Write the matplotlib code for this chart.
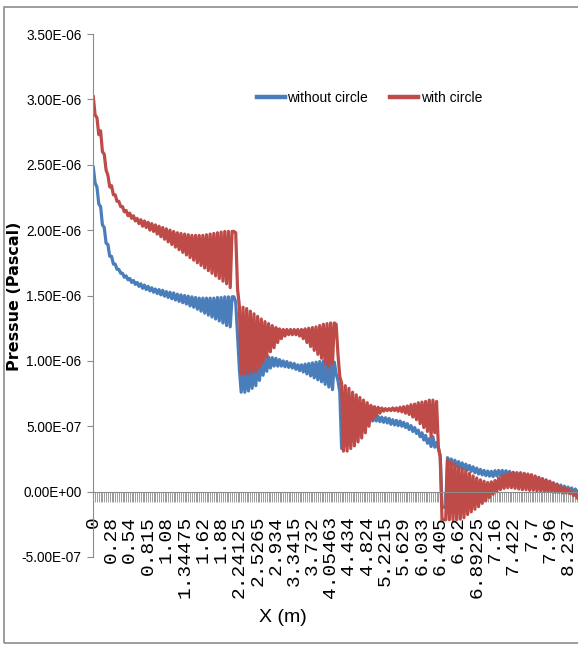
import numpy as np
import matplotlib
matplotlib.use("Agg")
import matplotlib.pyplot as plt
from matplotlib.ticker import FixedLocator, MultipleLocator, FuncFormatter
from matplotlib.patches import Rectangle

# Pressure along the channel, in units of 1e-7 Pa.
# Each pair of consecutive mesh points alternates crest / trough, so the
# series are stored as two lists (crest, trough) of equal length.
red_hi = [30.2, 28.6, 27.6, 25.8, 24.2, 23.4, 22.7, 22.2, 21.8, 21.5,
          21.3, 21.1, 20.9, 20.8, 20.7, 20.6, 20.5, 20.4, 20.3, 20.2,
          20.1, 20.0, 19.9, 19.8, 19.75, 19.7, 19.65, 19.6, 19.6, 19.6,
          19.6, 19.65, 19.7, 19.75, 19.8, 19.85, 19.9, 19.9, 19.9, 19.8,
          14.2, 14.1, 14.0, 13.8, 13.6, 13.4, 13.2, 13.0, 12.85, 12.7,
          12.55, 12.45, 12.4, 12.4, 12.4, 12.4, 12.4, 12.4, 12.45, 12.5,
          12.55, 12.6, 12.7, 12.8, 12.85, 12.9, 12.9, 10.5, 8.3, 8.1,
          7.9, 7.6, 7.4, 7.2, 7.0, 6.8, 6.6, 6.5, 6.45, 6.4,
          6.35, 6.35, 6.4, 6.4, 6.45, 6.5, 6.55, 6.65, 6.7, 6.8,
          6.85, 6.9, 7.0, 7.0, 6.9, 2.7, -2.15, 2.4, 2.25, 2.1,
          1.9, 1.75, 1.6, 1.4, 1.2, 1.05, 0.9, 0.8, 0.7, 0.75,
          0.85, 1.05, 1.2, 1.3, 1.4, 1.45, 1.45, 1.45, 1.4, 1.35,
          1.3, 1.2, 1.1, 1.0, 0.9, 0.8, 0.65, 0.55, 0.4, 0.3,
          0.2, 0.05, -0.1, -0.25]
red_lo = [28.8, 27.3, 26.0, 24.6, 23.3, 22.7, 22.2, 21.8, 21.4, 21.1,
          20.9, 20.7, 20.5, 20.3, 20.2, 20.0, 19.9, 19.7, 19.5, 19.3,
          19.1, 18.9, 18.7, 18.5, 18.3, 18.1, 17.9, 17.7, 17.5, 17.3,
          17.1, 16.9, 16.7, 16.5, 16.3, 16.1, 15.9, 15.6, 19.9, 15.5,
          9.0, 9.0, 9.0, 9.1, 9.2, 9.5, 9.9, 10.3, 10.7, 11.0,
          11.4, 11.7, 11.9, 12.0, 12.0, 12.0, 11.9, 11.7, 11.4, 11.1,
          10.8, 10.5, 10.2, 9.8, 9.5, 9.8, 12.8, 8.8, 3.1, 3.1,
          3.3, 3.5, 3.8, 4.1, 4.5, 5.0, 5.5, 5.8, 6.0, 6.15,
          6.2, 6.2, 6.2, 6.15, 6.1, 6.0, 5.9, 5.7, 5.5, 5.2,
          4.9, 4.6, 4.2, 4.5, 3.4, -2.15, -2.15, -2.15, -2.15, -2.15,
          -2.1, -2.0, -1.75, -1.55, -1.35, -1.15, -0.9, -0.7, -0.45, -0.2,
          0.0, 0.15, 0.25, 0.3, 0.3, 0.25, 0.2, 0.15, 0.15, 0.1,
          0.1, 0.05, 0.05, 0.0, 0.0, 0.0, -0.05, -0.05, -0.1, -0.1,
          -0.15, -0.3, -0.5, -0.7]

blue_hi = [24.8, 23.3, 21.8, 20.2, 18.9, 18.0, 17.4, 17.0, 16.7, 16.5,
           16.3, 16.15, 16.0, 15.9, 15.8, 15.7, 15.6, 15.5, 15.45, 15.4,
           15.3, 15.25, 15.2, 15.1, 15.05, 15.0, 14.95, 14.9, 14.85, 14.8,
           14.8, 14.8, 14.8, 14.8, 14.85, 14.85, 14.9, 14.9, 14.9, 14.5,
           9.4, 9.5, 9.6, 9.75, 9.9, 10.05, 10.15, 10.25, 10.3, 10.25,
           10.2, 10.1, 10.0, 9.95, 9.85, 9.8, 9.7, 9.7, 9.75, 9.8,
           9.85, 9.9, 9.95, 10.0, 10.0, 10.0, 9.9, 8.5, 3.3, 3.7,
           4.1, 4.5, 4.9, 5.2, 5.5, 5.7, 5.8, 5.8, 5.75, 5.7,
           5.65, 5.6, 5.5, 5.45, 5.4, 5.3, 5.2, 5.05, 4.9, 4.7,
           4.5, 4.3, 4.05, 4.2, 3.75, 2.7, -1.2, 2.6, 2.5, 2.4,
           2.3, 2.2, 2.1, 2.0, 1.9, 1.8, 1.7, 1.62, 1.57, 1.55,
           1.6, 1.62, 1.62, 1.6, 1.55, 1.48, 1.42, 1.38, 1.33, 1.28,
           1.22, 1.14, 1.05, 0.96, 0.87, 0.78, 0.68, 0.58, 0.5, 0.42,
           0.35, 0.28, 0.2, 0.12]
blue_lo = [23.6, 22.0, 20.4, 19.0, 18.0, 17.4, 17.0, 16.7, 16.4, 16.2,
           16.0, 15.85, 15.7, 15.55, 15.45, 15.35, 15.25, 15.15, 15.05, 14.95,
           14.85, 14.75, 14.65, 14.55, 14.45, 14.35, 14.2, 14.1, 13.95, 13.8,
           13.65, 13.5, 13.35, 13.2, 13.05, 12.9, 12.7, 12.6, 14.9, 12.0,
           7.6, 7.6, 7.7, 7.9, 8.1, 8.5, 8.9, 9.2, 9.45, 9.6,
           9.6, 9.6, 9.55, 9.5, 9.45, 9.35, 9.25, 9.15, 9.0, 8.85,
           8.7, 8.55, 8.4, 8.2, 8.0, 7.8, 9.0, 7.6, 3.4, 3.5,
           3.8, 4.1, 4.4, 4.7, 5.0, 5.25, 5.4, 5.4, 5.35, 5.3,
           5.25, 5.15, 5.1, 5.05, 5.0, 4.9, 4.75, 4.6, 4.45, 4.2,
           3.95, 3.7, 3.45, 3.4, 3.3, -1.1, -1.2, 2.1, 2.05, 1.95,
           1.85, 1.75, 1.65, 1.55, 1.45, 1.35, 1.28, 1.22, 1.18, 1.15,
           1.2, 1.22, 1.22, 1.2, 1.15, 1.08, 1.02, 0.98, 0.93, 0.88,
           0.82, 0.74, 0.65, 0.56, 0.47, 0.38, 0.28, 0.18, 0.1, 0.02,
           -0.05, -0.12, -0.2, -0.28]

# x positions (m) shown on the category axis, one label every 10 points
x_labels = ["0", "0.28", "0.54", "0.815", "1.08", "1.34475", "1.62", "1.88",
            "2.24125", "2.5265", "2.934", "3.3415", "3.732", "4.05463", "4.434",
            "4.824", "5.2215", "5.629", "6.033", "6.405", "6.62", "6.89225",
            "7.16", "7.422", "7.7", "7.96", "8.237"]
y_ticks = [-5e-7, 0.0, 5e-7, 1e-6, 1.5e-6, 2e-6, 2.5e-6, 3e-6, 3.5e-6]

SANS = ["Liberation Sans", "DejaVu Sans"]


def interleave(hi, lo):
    return np.column_stack([hi, lo]).ravel() * 1e-7


without_circle = interleave(blue_hi, blue_lo)
with_circle = interleave(red_hi, red_lo)
idx = np.arange(len(with_circle))

fig = plt.figure(figsize=(5.78, 6.46), dpi=100)
ax = fig.add_axes([93.3 / 578, 89 / 646, 487.5 / 578, 523 / 646])

ax.plot(idx, without_circle, color="#4a7ebb", lw=2.3, label="without circle")
ax.plot(idx, with_circle, color="#be4b48", lw=2.3, label="with circle")

ax.set_xlim(0, len(idx) - 1)
ax.set_ylim(-5e-7, 3.5e-6)

# category axis crosses at zero, a tick for every point
for side in ("top", "right"):
    ax.spines[side].set_visible(False)
ax.spines["bottom"].set_position(("data", 0))
ax.spines["bottom"].set_color("#8c8c8c")
ax.spines["left"].set_color("#8c8c8c")

ax.xaxis.set_major_locator(FixedLocator(np.arange(len(x_labels)) * 10))
ax.xaxis.set_minor_locator(MultipleLocator(1))
ax.set_xticklabels(x_labels, rotation=90, family=["Liberation Mono", "DejaVu Sans Mono"],
                   fontsize=14)
ax.tick_params(axis="x", which="both", direction="out", length=7.5, width=0.6,
               color="#8c8c8c", pad=10)

ax.yaxis.set_major_locator(FixedLocator(y_ticks))
ax.yaxis.set_major_formatter(FuncFormatter(lambda v, p: f"{v:.2E}"))
ax.tick_params(axis="y", direction="out", length=4.5, width=0.8, color="#8c8c8c", pad=4)
for lab in ax.get_yticklabels():
    lab.set_family(SANS)
    lab.set_fontsize(9.8)

leg = ax.legend(loc="center left", bbox_to_anchor=(250 / 578, 1 - 97.5 / 646),
                bbox_transform=fig.transFigure, ncol=2, frameon=False,
                borderpad=0, handlelength=2.0, handletextpad=0.2,
                columnspacing=1.6, prop={"family": SANS, "size": 10})
for line in leg.get_lines():
    line.set_linewidth(3.2)

fig.text(15 / 578, 1 - 296 / 646, "Pressue (Pascal)", rotation=90,
         fontweight="bold", fontsize=11.5, ha="center", va="center",
         family="DejaVu Sans")
fig.text(283 / 578, 1 - 618 / 646, "X (m)", fontsize=14, ha="center",
         va="center", family=SANS)

# outer chart border
fig.patches.append(Rectangle((4 / 578, 1 - 643 / 646), 1.2, 636 / 646,
                             transform=fig.transFigure, fill=False,
                             edgecolor="#8c8c8c", lw=1.2))

fig.savefig("out.png", dpi=100)
